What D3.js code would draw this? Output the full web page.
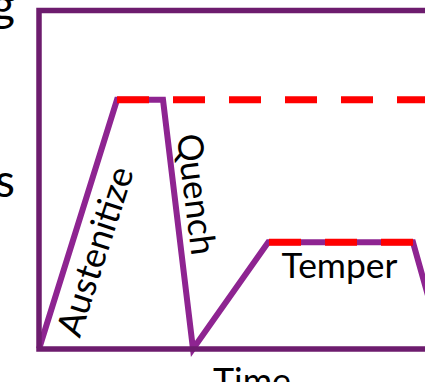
<!DOCTYPE html>
<html><head><meta charset="utf-8">
<script src="https://cdn.jsdelivr.net/npm/d3@7"></script>
<style>html,body{margin:0;padding:0;background:#fff;overflow:hidden}</style>
</head><body>
<svg id="c" width="425" height="382"></svg>
<script>
// ---- data ----
const times = [0, 19.5, 31, 38.5, 57.3, 93.5, 101];      // profile time points
const temps = [0, 73.6, 73.6, 0, 31.5, 31.5, 0];        // profile temperatures
const holdStarts = [19.5, 57.5];                        // red dashed hold lines
const holdEnds   = [100, 93.5];
const holdTemps  = [73.6, 31.5];
const stageLabels = ["Austenitize", "Quench", "Temper"];
const axisLabels = ["Time"];
const cutLabels = ["g", "s"];

const svg = d3.select("#c");
const x = d3.scaleLinear().domain([0, 100]).range([39, 439]);
const y = d3.scaleLinear().domain([0, 100]).range([349, 10.5]);

const frameColor = "#6d1c6e", lineColor = "#8e2491", red = "#ff0000";
const font = "Lato, 'Open Sans', sans-serif";

// profile
const pts = times.map((t, i) => [t, temps[i]]);
svg.append("path")
  .attr("d", d3.line().x(d => x(d[0])).y(d => y(d[1]))(pts))
  .attr("fill", "none").attr("stroke", lineColor).attr("stroke-width", 6)
  .attr("stroke-linejoin", "miter");

// frame
svg.append("path")
  .attr("d", d3.line()([[x(115), y(100)], [x(0), y(100)], [x(0), y(0)], [x(115), y(0)]]))
  .attr("fill", "none").attr("stroke", frameColor).attr("stroke-width", 5.5);

// hold lines
svg.selectAll("line.hold").data(holdTemps).enter().append("line")
  .attr("class", "hold")
  .attr("x1", (d, i) => x(holdStarts[i])).attr("x2", (d, i) => x(holdEnds[i]))
  .attr("y1", d => y(d)).attr("y2", d => y(d))
  .attr("stroke", red).attr("stroke-width", 7).attr("stroke-dasharray", "32,24");

function fitText(sel, target) {
  const base = 100;
  sel.attr("font-size", base);
  const w = sel.node().getComputedTextLength();
  sel.attr("font-size", base * target / w);
}

// Austenitize
const a = svg.append("text").text(stageLabels[0])
  .attr("font-family", font).attr("text-anchor", "middle").attr("dominant-baseline", "central")
  .attr("transform", "translate(94,251) rotate(-72)").attr("fill", "#000");
fitText(a, 176);

// Quench
const q = svg.append("text").text(stageLabels[1])
  .attr("font-family", font).attr("text-anchor", "middle").attr("dominant-baseline", "central")
  .attr("transform", "translate(198,194) rotate(83)").attr("fill", "#000");
fitText(q, 122);

// Temper
const tp = svg.append("text").text(stageLabels[2])
  .attr("font-family", font).attr("text-anchor", "middle")
  .attr("x", 339.5).attr("y", 278).attr("fill", "#000");
fitText(tp, 116);

// Time
const tm = svg.append("text").text(axisLabels[0])
  .attr("font-family", font).attr("text-anchor", "middle")
  .attr("x", 252).attr("y", 394).attr("fill", "#000");
fitText(tm, 78);

// cut-off left labels
svg.append("text").text(cutLabels[0]).attr("font-family", font).attr("font-size", 46)
  .attr("text-anchor", "end").attr("x", 15).attr("y", 21).attr("fill", "#000");
svg.append("text").text(cutLabels[1]).attr("font-family", font).attr("font-size", 46)
  .attr("text-anchor", "end").attr("x", 15).attr("y", 197).attr("fill", "#000");
</script>
</body></html>
